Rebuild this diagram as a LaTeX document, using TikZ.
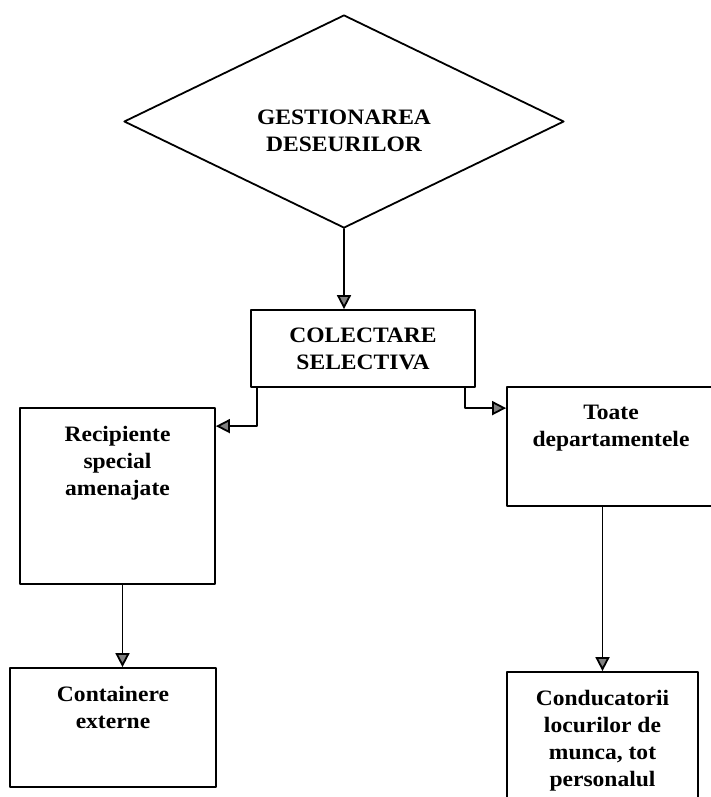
\documentclass[tikz,border=0pt]{standalone}
\usepackage{fontspec}
\setmainfont{Liberation Serif}[FakeStretch=1.07]
\usetikzlibrary{arrows.meta}
\usetikzlibrary{shapes.geometric}

\begin{document}
\begin{tikzpicture}[line cap=round,line join=round,>={Triangle[length=14pt,width=14pt,fill=gray]},x=1pt,y=-1pt,
    box/.style={draw,line width=1.8pt,inner sep=0pt},
    boxtext/.style={anchor=north,yshift=-19pt,align=center,inner sep=0pt,font=\bfseries\fontsize{22}{27}\selectfont},
    link/.style={->,line width=1.8pt}]
    \useasboundingbox (0,0) rectangle (711,797);
    \clip (0,0) rectangle (711,797);
    \node[box,diamond,aspect=2.07,minimum width=440pt,minimum height=213pt] (gest) at (344,121.5) {};
    \node[box,minimum width=224pt,minimum height=77pt] (colect) at (363,348.5) {};
    \node[box,minimum width=195pt,minimum height=176pt] (recip) at (117.5,496) {};
    \node[box,minimum width=208pt,minimum height=119pt] (toate) at (611,446.5) {};
    \node[box,minimum width=206pt,minimum height=119pt] (contain) at (113,727.5) {};
    \node[box,minimum width=191pt,minimum height=136pt] (conduc) at (602.5,740) {};
    \node[boxtext,anchor=center,yshift=10pt] (gesttext) at (gest) {GESTIONAREA\\DESEURILOR};
    \node[boxtext] (colecttext) at (colect.north) {COLECTARE\\SELECTIVA};
    \node[boxtext] (reciptext) at (recip.north) {Recipiente\\special\\amenajate};
    \node[boxtext] (toatetext) at (toate.north) {Toate\\departamentele};
    \node[boxtext] (containtext) at (contain.north) {Containere\\externe};
    \node[boxtext] (conductext) at (conduc.north) {Conducatorii\\locurilor de\\munca, tot\\personalul};
    \draw[link] (gest.south) -- (gest.south |- colect.north);
    \draw[link] ([xshift=7pt]colect.south west) |- ([yshift=-19pt]recip.north east);
    \draw[link] ([xshift=-11pt]colect.south east) |- ([yshift=-22pt]toate.north west);
    \draw[link] ([xshift=5pt]recip.south) -- ([xshift=5pt]recip.south |- contain.north);
    \draw[link] (toate.south -| conduc.north) -- (conduc.north);
\end{tikzpicture}
\end{document}
